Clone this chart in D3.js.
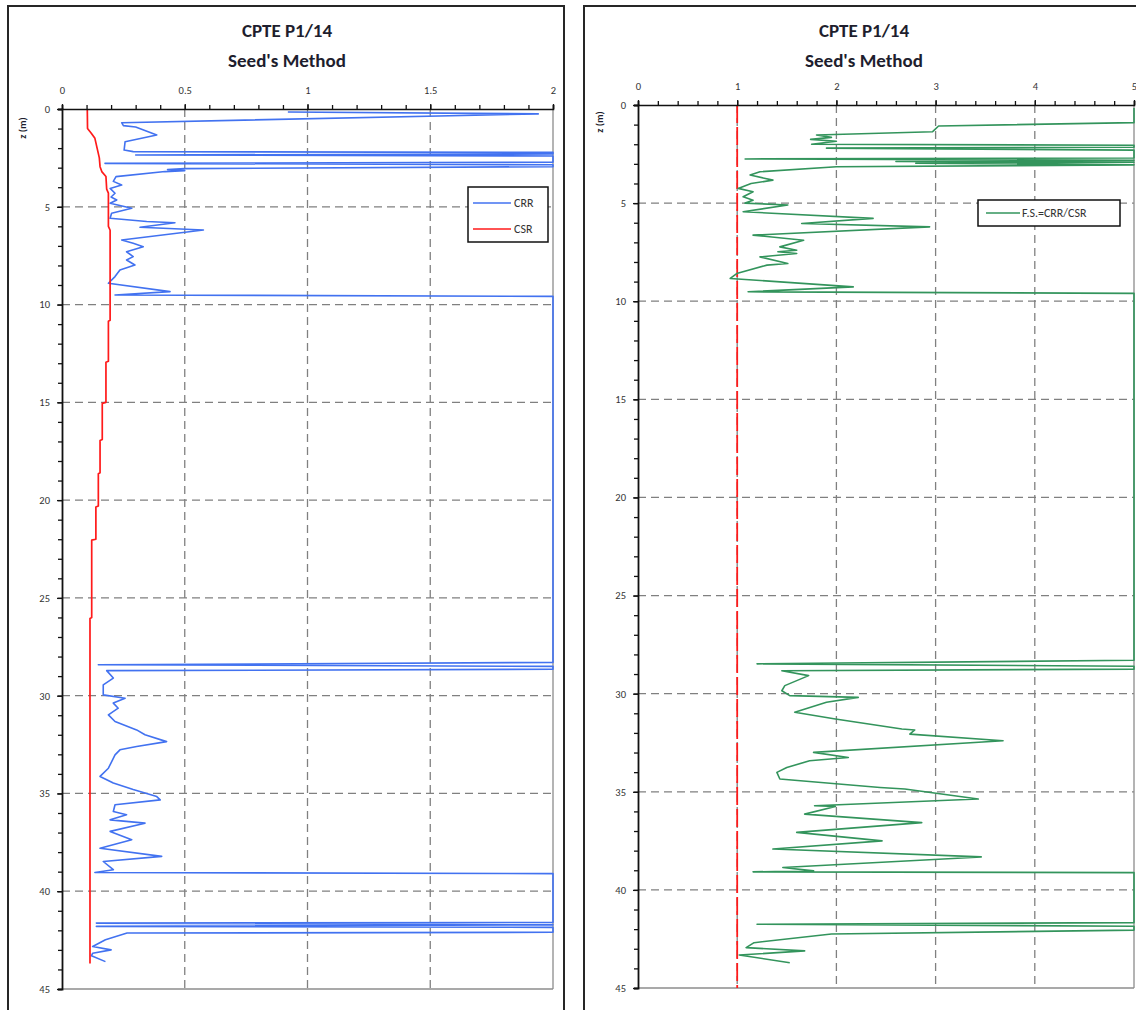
<!DOCTYPE html>
<html><head><meta charset="utf-8">
<script src="https://cdn.jsdelivr.net/npm/d3@7/dist/d3.min.js"></script>
<style>
html,body{margin:0;padding:0;background:#fff;}
svg{display:block;font-family:Carlito,Lato,"Liberation Sans",sans-serif;}
</style></head>
<body>
<svg id="chart" width="1136" height="1010"></svg>
<script>
// ---------- DATA ----------
const titleLines = ["CPTE P1/14", "Seed's Method"];
const yAxisLabel = "z (m)";
const depthTicks = [0,5,10,15,20,25,30,35,40,45];
const leftXTicks = [0,0.5,1,1.5,2];
const rightXTicks = [0,1,2,3,4,5];
const leftLegend = ["CRR","CSR"];
const rightLegend = ["F.S.=CRR/CSR"];

// CRR (left panel, blue) — depth (m) and value (clamped at axis max 2)
const crrDepth = [0.15,0.25,0.70,0.85,0.92,1.33,1.67,2.1,2.18,2.22,2.3,2.35,2.4,2.72,2.78,2.85,2.95,3.05,3.1,3.15,3.2,3.46,3.7,3.89,4.06,4.31,4.5,4.65,4.82,5.08,5.33,5.59,5.75,5.82,6.05,6.19,6.70,6.87,7.04,7.3,7.55,7.72,7.98,8.23,8.57,8.91,9.34,9.51,9.58,28.3,28.42,28.5,28.65,28.72,29.1,29.45,29.96,30.13,30.38,30.64,30.98,31.32,31.75,32.0,32.35,32.6,32.77,33.03,33.71,34.13,34.47,34.8,35.16,35.33,35.58,35.92,36.09,36.35,36.52,36.94,37.37,37.8,38.22,38.48,38.9,39.04,39.1,41.6,41.63,41.72,41.8,41.85,42.1,42.14,42.48,42.83,43.0,43.17,43.3,43.6];
const crrValue = [0.92,1.94,0.243,0.25,0.30,0.386,0.257,0.253,0.29,2.0,2.0,0.30,2.0,2.0,0.175,2.0,2.0,0.5,0.43,0.5,0.42,0.22,0.209,0.243,0.196,0.216,0.2,0.223,0.196,0.284,0.202,0.196,0.345,0.46,0.318,0.576,0.243,0.29,0.331,0.263,0.29,0.263,0.297,0.236,0.216,0.189,0.44,0.216,2.0,2.0,0.148,2.0,2.0,0.182,0.209,0.168,0.168,0.257,0.209,0.229,0.189,0.216,0.304,0.338,0.426,0.304,0.236,0.216,0.189,0.155,0.209,0.29,0.386,0.40,0.216,0.209,0.263,0.196,0.338,0.196,0.284,0.155,0.406,0.168,0.209,0.134,2.0,2.0,0.14,2.0,0.14,2.0,2.0,0.265,0.177,0.125,0.2,0.125,0.12,0.177];

// CSR (left panel, red)
const csrDepth = [0,1.0,1.25,1.5,2.0,2.5,2.95,3.2,3.45,4.1,4.3,6.0,6.2,10.8,10.85,12.9,12.95,15.0,15.05,16.9,16.95,18.6,18.65,20.3,20.35,22.0,22.05,26.0,26.05,43.7];
const csrValue = [0.103,0.104,0.12,0.134,0.143,0.152,0.155,0.162,0.179,0.182,0.189,0.189,0.196,0.196,0.189,0.189,0.179,0.179,0.164,0.164,0.155,0.155,0.148,0.148,0.138,0.138,0.121,0.121,0.114,0.114];

// Factor of safety (right panel, green) — clamped at axis max 5
const fsDepth = [0.15,0.9,1.07,1.36,1.53,1.65,1.75,1.85,2.0,2.05,2.15,2.2,2.3,2.7,2.75,2.82,2.88,2.92,2.97,3.05,3.15,3.4,3.57,3.83,4.0,4.25,4.42,4.68,4.85,5.0,5.1,5.44,5.78,6.04,6.21,6.63,6.89,7.23,7.4,7.48,7.57,7.74,8.08,8.16,8.59,8.84,9.27,9.52,9.6,28.3,28.48,28.6,28.75,28.83,29.08,29.59,29.85,30.1,30.19,30.44,30.95,31.29,31.8,31.85,32.06,32.4,32.99,33.25,33.42,33.76,34.01,34.35,34.78,34.86,35.37,35.71,35.75,36.14,36.57,37.07,37.5,37.92,38.32,38.86,39.03,39.08,39.12,41.67,41.75,41.85,42.05,42.25,42.69,42.94,43.11,43.32,43.71];
const fsValue = [5,5,3.03,2.97,1.80,1.95,1.74,2.0,1.75,5,5,1.9,5,5,1.08,5,2.6,5,2.8,5,2.0,1.23,1.13,1.36,1.14,1.01,1.16,1.06,1.16,1.08,1.51,1.06,2.37,1.65,2.94,1.16,1.67,1.43,1.6,1.41,1.6,1.23,1.51,1.3,0.995,0.93,2.17,1.11,5,5,1.2,5,5,1.45,1.72,1.48,1.45,1.53,2.22,1.90,1.58,1.99,2.66,2.79,2.74,3.68,1.77,2.12,1.73,1.50,1.40,1.43,2.44,2.69,3.43,1.78,1.99,1.68,2.86,1.60,2.46,1.36,3.46,1.46,1.77,1.16,5,5,1.2,5,5,1.95,1.17,1.09,1.68,1.02,1.53];

// Limit line F.S. = 1 (right panel, red dashed)
const limitDepth = [0,45];
const limitValue = [1,1];

// ---------- DRAWING ----------
const svg = d3.select("#chart");
const C = {crr:"#4272f0", csr:"#ff1a1a", fs:"#33945c", grid:"#808080", text:"#333"};

function panel(o){
  const g = svg.append("g");
  g.append("rect").attr("x",o.frame[0]).attr("y",o.frame[1]).attr("width",o.frame[2]).attr("height",o.frame[3])
    .attr("fill","#fff").attr("stroke","#262626").attr("stroke-width",2);
  const x = d3.scaleLinear().domain(o.xDom).range([o.left,o.right]);
  const y = d3.scaleLinear().domain([0,45]).range([o.top,o.bottom]);
  g.append("text").attr("x",o.tcx).attr("y",37).attr("text-anchor","middle")
    .attr("font-size",19).attr("font-weight","bold").attr("fill","#1e1e2e").text(titleLines[0]);
  g.append("text").attr("x",o.tcx).attr("y",67).attr("text-anchor","middle")
    .attr("font-size",19).attr("font-weight","bold").attr("fill","#1e1e2e").text(titleLines[1]);
  const gx = o.xTicks.filter(d=>d>o.xDom[0] && d<o.xDom[1]);
  g.append("g").selectAll("line").data(gx).join("line")
    .attr("x1",d=>x(d)).attr("x2",d=>x(d)).attr("y1",o.top).attr("y2",o.bottom)
    .attr("stroke",C.grid).attr("stroke-width",1.3).attr("stroke-dasharray","8,5");
  const gy = depthTicks.filter(d=>d>0 && d<45);
  g.append("g").selectAll("line").data(gy).join("line")
    .attr("x1",o.left).attr("x2",o.right).attr("y1",d=>y(d)).attr("y2",d=>y(d))
    .attr("stroke",C.grid).attr("stroke-width",1.3).attr("stroke-dasharray","8,5");
  g.append("line").attr("x1",o.left).attr("x2",o.right).attr("y1",o.bottom).attr("y2",o.bottom).attr("stroke","#8c8c8c").attr("stroke-width",1.3);
  g.append("line").attr("x1",o.right).attr("x2",o.right).attr("y1",o.top).attr("y2",o.bottom).attr("stroke","#8c8c8c").attr("stroke-width",1.3);
  return {g,x,y};
}

function axes(p,o){
  const {g,x,y} = p;
  const minor = d3.range(o.xDom[0], o.xDom[1]+1e-9, o.minorStep);
  g.append("g").attr("transform",`translate(0,${o.top})`)
    .call(d3.axisTop(x).tickValues(minor).tickSize(4).tickFormat(""))
    .call(s=>s.select(".domain").attr("stroke","#111").attr("stroke-width",1.6))
    .call(s=>s.selectAll(".tick line").attr("stroke","#111").attr("stroke-width",1.3));
  g.append("g").attr("transform",`translate(0,${o.top})`)
    .call(d3.axisTop(x).tickValues(o.xTicks).tickSize(5).tickPadding(10).tickFormat(d=>String(d)))
    .call(s=>s.select(".domain").remove())
    .call(s=>s.selectAll(".tick line").attr("stroke","#111").attr("stroke-width",1.3))
    .call(s=>s.selectAll("text").attr("font-size",10.5).attr("fill",C.text).attr("font-family","Carlito,Lato,sans-serif"));
  g.append("g").attr("transform",`translate(${o.left},0)`)
    .call(d3.axisLeft(y).tickValues(d3.range(0,46,1)).tickSize(4).tickFormat(""))
    .call(s=>s.select(".domain").attr("stroke","#111").attr("stroke-width",1.8))
    .call(s=>s.selectAll(".tick line").attr("stroke","#111").attr("stroke-width",1.3));
  g.append("g").attr("transform",`translate(${o.left},0)`)
    .call(d3.axisLeft(y).tickValues(depthTicks).tickSize(5).tickPadding(7).tickFormat(d=>String(d)))
    .call(s=>s.select(".domain").remove())
    .call(s=>s.selectAll(".tick line").attr("stroke","#111").attr("stroke-width",1.3))
    .call(s=>s.selectAll("text").attr("font-size",10.5).attr("fill",C.text).attr("font-family","Carlito,Lato,sans-serif"));
  g.append("text").attr("transform",`translate(${o.zx},${o.zy}) rotate(-90)`)
    .attr("text-anchor","middle").attr("dominant-baseline","middle")
    .attr("font-size",10.5).attr("font-weight","bold").attr("fill","#1e1e2e").text(yAxisLabel);
}

function series(p, depths, values, color, width, dash){
  const pts = depths.map((d,i)=>[values[i], d]);
  const line = d3.line().x(d=>p.x(d[0])).y(d=>p.y(d[1]));
  const path = p.g.append("path").datum(pts).attr("d",line).attr("fill","none")
    .attr("stroke",color).attr("stroke-width",width).attr("stroke-linejoin","round");
  if(dash) path.attr("stroke-dasharray",dash);
}

function legend(p, box, items){
  const g = p.g.append("g");
  g.append("rect").attr("x",box.x).attr("y",box.y).attr("width",box.w).attr("height",box.h)
    .attr("fill","#fff").attr("stroke","#111").attr("stroke-width",1.5);
  items.forEach((it,i)=>{
    const yy = box.y + box.first + i*box.step;
    g.append("line").attr("x1",box.x+box.lx0).attr("x2",box.x+box.lx1).attr("y1",yy).attr("y2",yy)
      .attr("stroke",it.color).attr("stroke-width",1.6);
    g.append("text").attr("x",box.x+box.tx).attr("y",yy).attr("dominant-baseline","central")
      .attr("font-size",12).attr("fill","#333").text(it.label);
  });
}

const oL = {frame:[8,6,556,1014], xDom:[0,2], left:62, right:553, top:109, bottom:989, tcx:287,
            xTicks:leftXTicks, minorStep:0.1, zx:23, zy:128};
const pL = panel(oL);
series(pL, crrDepth, crrValue, C.crr, 1.6);
series(pL, csrDepth, csrValue, C.csr, 1.7);
axes(pL, oL);
legend(pL, {x:468,y:187,w:80,h:55,first:16,step:26,lx0:5,lx1:43,tx:46},
  [{label:leftLegend[0],color:C.crr},{label:leftLegend[1],color:C.csr}]);

const oR = {frame:[584,6,570,1014], xDom:[0,5], left:638, right:1134, top:105, bottom:988, tcx:864,
            xTicks:rightXTicks, minorStep:0.2, zx:600, zy:122};
const pR = panel(oR);
series(pR, limitDepth, limitValue, C.csr, 1.8, "18,4");
series(pR, fsDepth, fsValue, C.fs, 1.6);
axes(pR, oR);
legend(pR, {x:978,y:200,w:142,h:26,first:13,step:0,lx0:8,lx1:42,tx:44},
  [{label:rightLegend[0],color:C.fs}]);
</script>
</body></html>
